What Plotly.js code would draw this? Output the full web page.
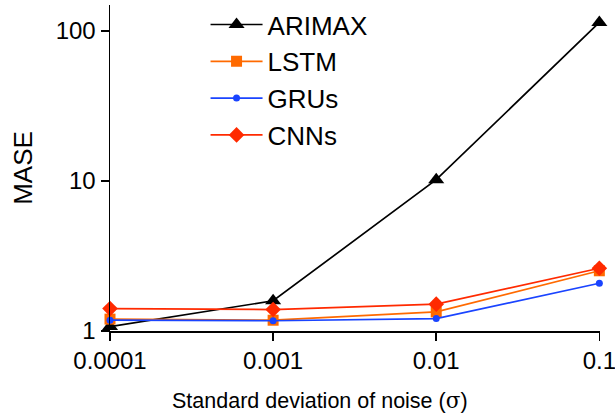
<!DOCTYPE html>
<html>
<head>
<meta charset="utf-8">
<script src="https://cdn.plot.ly/plotly-3.0.1.min.js"></script>
<style>html,body{margin:0;padding:0;background:#fff;}#chart{width:615px;height:418px;}</style>
</head>
<body>
<div id="chart"></div>
<script>
const noise = [0.0001, 0.001, 0.01, 0.1];
const tickLabels = ["0.0001", "0.001", "0.01", "0.1"];
const arimax = [1.07, 1.59, 10.2, 114];
const lstm = [1.20, 1.18, 1.34, 2.52];
const grus = [1.18, 1.17, 1.21, 2.08];
const cnns = [1.41, 1.39, 1.51, 2.62];
const yTicks = [1, 10, 100];
const yTickLabels = ["1", "10", "100"];
const xTitle = "Standard deviation of noise (<span style='font-family:DejaVu Serif'>σ</span>)";
const yTitle = "MASE";

const FONT = "Liberation Sans, Arial, sans-serif";

function tr(name, y, color, symbol, size) {
  return {
    x: noise, y: y, name: name, type: "scatter", mode: "lines+markers",
    line: {color: color, width: 1.7},
    marker: {symbol: symbol, size: size, color: color},
    cliponaxis: false
  };
}

const data = [
  tr("ARIMAX", arimax, "#000000", "triangle-up", 14),
  tr("LSTM", lstm, "#FF6A00", "square", 11),
  tr("GRUs", grus, "#1A44FF", "circle", 7),
  tr("CNNs", cnns, "#FF2A00", "diamond", 12)
];

const layout = {
  width: 615, height: 418,
  margin: {l: 110, r: 15, t: 5, b: 87, autoexpand: false},
  paper_bgcolor: "#fff", plot_bgcolor: "#fff",
  font: {family: FONT, color: "#000"},
  showlegend: true,
  legend: {
    x: 0.195, y: 1.012, xanchor: "left", yanchor: "top",
    font: {size: 26, family: FONT},
    bgcolor: "rgba(0,0,0,0)", tracegroupgap: 0,
    itemwidth: 52
  },
  xaxis: {
    type: "log", range: [-4, -0.996],
    tickvals: noise, ticktext: tickLabels,
    ticks: "outside", ticklen: 8, tickwidth: 1.5, tickcolor: "#000",
    showline: true, linecolor: "#000", linewidth: 1.5,
    showgrid: false, zeroline: false,
    ticklabeloverflow: "allow",
    tickfont: {size: 24, family: FONT}
  },
  yaxis: {
    type: "log", range: [0, 2.173],
    tickvals: yTicks, ticktext: yTickLabels,
    ticks: "outside", ticklen: 8, tickwidth: 1.5, tickcolor: "#000",
    showline: true, linecolor: "#000", linewidth: 1.5,
    showgrid: false, zeroline: false,
    tickfont: {size: 24, family: FONT},
    title: {text: yTitle, font: {size: 26, family: FONT}, standoff: 15}
  },
  annotations: [{
    text: xTitle, xref: "paper", yref: "paper",
    x: 0.428, y: -0.17, xanchor: "center", yanchor: "top",
    showarrow: false, font: {size: 21.5, family: FONT}
  }]
};

Plotly.newPlot("chart", data, layout, {displayModeBar: false, staticPlot: true});
</script>
</body>
</html>
